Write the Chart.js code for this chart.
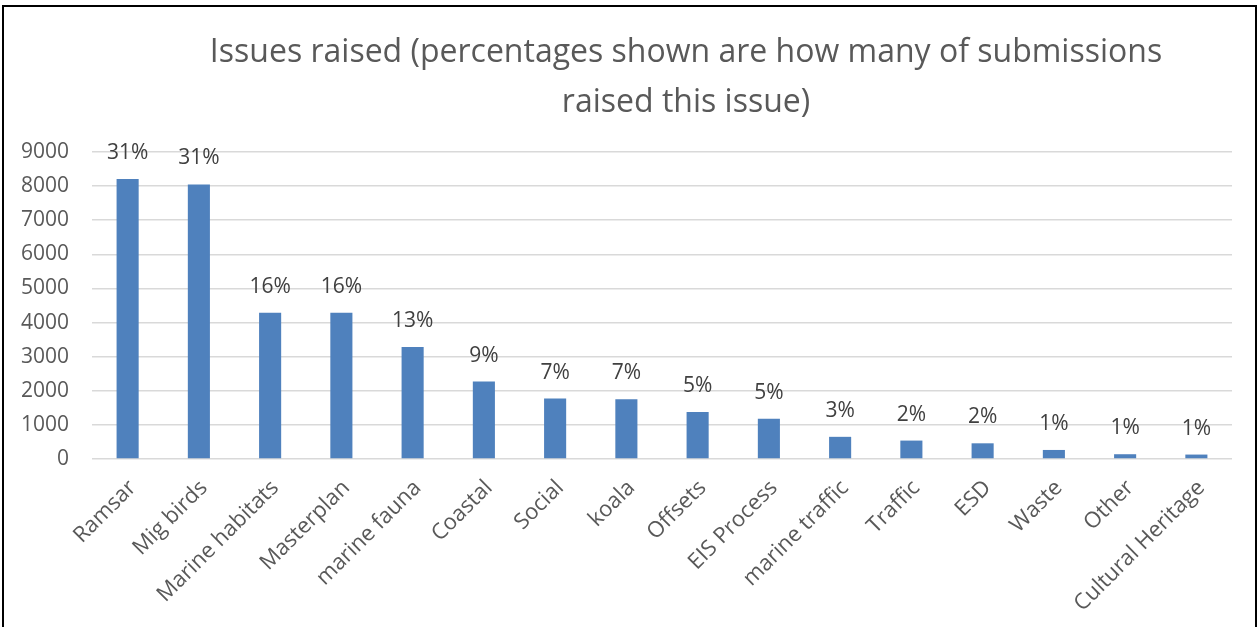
<!DOCTYPE html>
<html>
<head>
<meta charset="utf-8">
<script src="https://cdn.jsdelivr.net/npm/chart.js@4"></script>
<style>
  html, body { margin: 0; padding: 0; background: #fff; overflow: hidden; }
  #wrap { position: relative; width: 1260px; height: 627px; }
  #frame { position: absolute; left: 2px; top: 5px; width: 1255px; height: 700px; border: 2px solid #000; box-sizing: border-box; pointer-events: none; }
  canvas { position: absolute; left: 0; top: 0; }
</style>
</head>
<body>
<div id="wrap">
  <canvas id="c" width="1260" height="627"></canvas>
  <div id="frame"></div>
</div>
<script>
const titleLines = ["Issues raised (percentages shown are how many of submissions", "raised this issue)"];
const categories = ["Ramsar", "Mig birds", "Marine habitats", "Masterplan", "marine fauna", "Coastal", "Social", "koala", "Offsets", "EIS Process", "marine traffic", "Traffic", "ESD", "Waste", "Other", "Cultural Heritage"];
const counts = [8210, 8050, 4290, 4290, 3280, 2270, 1770, 1750, 1380, 1180, 650, 540, 460, 265, 140, 130];
const percentLabels = ["31%", "31%", "16%", "16%", "13%", "9%", "7%", "7%", "5%", "5%", "3%", "2%", "2%", "1%", "1%", "1%"];
const yMin = 0, yMax = 9000, yStep = 1000;

const FONT = "'Open Sans', 'Liberation Sans', sans-serif";

const titlePlugin = {
  id: 'customTitle',
  afterDraw(chart) {
    const ctx = chart.ctx;
    ctx.save();
    ctx.font = "32px " + FONT;
    ctx.fillStyle = "#595959";
    ctx.textAlign = "center";
    ctx.textBaseline = "alphabetic";
    ctx.fillText(titleLines[0], 686, 62);
    ctx.fillText(titleLines[1], 686, 112);
    ctx.restore();
  }
};

const dataLabelPlugin = {
  id: 'pctLabels',
  afterDatasetsDraw(chart) {
    const ctx = chart.ctx;
    const meta = chart.getDatasetMeta(0);
    ctx.save();
    ctx.font = "21px " + FONT;
    ctx.fillStyle = "#404040";
    ctx.textAlign = "center";
    ctx.textBaseline = "middle";
    meta.data.forEach((bar, i) => {
      ctx.fillText(percentLabels[i], bar.x, bar.y - 26);
    });
    ctx.restore();
  }
};

new Chart(document.getElementById('c'), {
  type: 'bar',
  data: {
    labels: categories,
    datasets: [{
      data: counts,
      backgroundColor: '#4f81bd',
      borderWidth: 0,
      barPercentage: 1,
      categoryPercentage: 0.31
    }]
  },
  options: {
    responsive: false,
    devicePixelRatio: 1,
    animation: false,
    layout: { padding: { top: 152, right: 28, left: 0, bottom: 0 } },
    plugins: { legend: { display: false }, title: { display: false }, tooltip: { enabled: false } },
    scales: {
      x: {
        grid: { display: false, drawTicks: false },
        border: { display: false },
        ticks: {
          color: '#595959',
          font: { family: FONT, size: 22 },
          minRotation: 45, maxRotation: 45,
          autoSkip: false,
          padding: 16,
          labelOffset: 5
        },
        afterFit(scale) { scale.height = 168; }
      },
      y: {
        min: yMin, max: yMax,
        grid: { color: '#d9d9d9', lineWidth: 1.5, drawTicks: false },
        border: { display: false },
        ticks: {
          stepSize: yStep,
          color: '#595959',
          font: { family: FONT, size: 21 },
          padding: 23,
          callback: (v) => String(v)
        },
        afterFit(scale) { scale.width = 92; }
      }
    }
  },
  plugins: [titlePlugin, dataLabelPlugin]
});
</script>
</body>
</html>
